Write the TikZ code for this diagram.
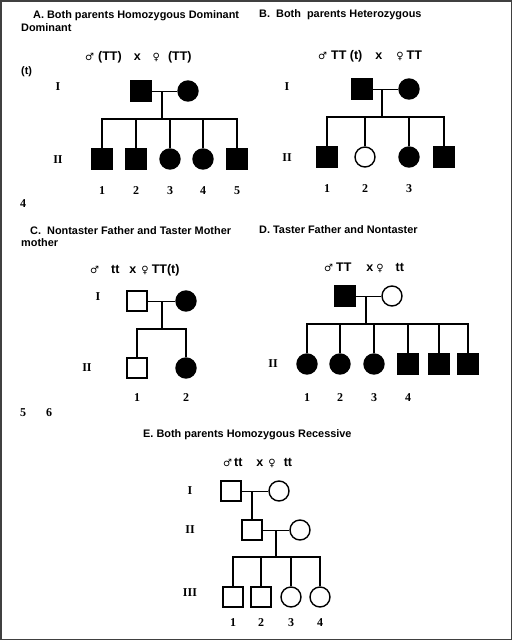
\documentclass[tikz,border=0pt]{standalone}
\usepackage{fontspec}
\setmainfont{Liberation Serif}
\setsansfont{Liberation Sans}
\newfontfamily\symfont{DejaVu Sans}
\newcommand{\msym}{{\symfont\mdseries\fontsize{10}{12}\selectfont ♂}}
\newcommand{\fsym}{{\symfont\mdseries\fontsize{10}{12}\selectfont ♀}}
\tikzset{
  male/.style={draw, rectangle, minimum size=20pt, inner sep=0pt, line width=1.4pt},
  female/.style={draw, circle, minimum size=20pt, inner sep=0pt, line width=1.4pt},
  taster/.style={fill=black},
  marline/.style={line width=0.8pt},
  descline/.style={line width=1.2pt},
  sibline/.style={line width=1.9pt},
  panel/.style={anchor=west, inner sep=0pt, font=\sffamily\bfseries\fontsize{10.9}{12}\selectfont},
  cross/.style={anchor=west, inner sep=0pt, font=\sffamily\bfseries\fontsize{12.5}{14}\selectfont},
  gen/.style={inner sep=0pt, font=\rmfamily\bfseries\fontsize{12}{13}\selectfont},
}
\begin{document}
\begin{tikzpicture}[x=1pt, y=-1pt]
    \useasboundingbox (0,0) rectangle (512,640);
    % Draw the frame
    \draw[line width=1.5pt, black!75] (0.75,0.75) rectangle (511.25,639.25);

    % A. both parents homozygous dominant
    \node[panel] (Atitle) at (33,16) {A. Both parents Homozygous Dominant};
    \node[panel] (Atitle2) at (21,28) {Dominant};
    \node[cross] (Across) at (85,57) {\msym\hspace{4pt}(TT)\hspace{12pt}x\hspace{12pt}\fsym\hspace{8pt}(TT)};
    \node[panel] (At) at (21,72) {(t)};
    \node[gen] (AI) at (58,87) {I};
    \node[gen] (AII) at (58,160) {II};
    \node[gen] (A4) at (23,204) {4};
    \node[male, taster] (Af) at (141,91) {};
    \node[female, taster] (Am) at (188,91) {};
    \coordinate (Ak) at (162,91);
    \coordinate (Aj) at (162,119);
    \draw[marline] (Af) -- (Am);
    \draw[descline] (Ak) -- (Aj);
    \foreach \x/\s/\n in {102/male/1, 136/male/2, 170/female/3, 203/female/4, 237/male/5} {
        \node[\s, taster] (Ac\n) at (\x,159) {};
        \node[gen] (An\n) at (\x,191) {\n};
        \draw[sibline] (Ac\n.north) |- (Aj);
    }

    % B. both parents heterozygous
    \node[panel] (Btitle) at (259,15) {B.~~Both~~parents Heterozygous};
    \node[cross] (Bcross) at (318,56) {\msym\hspace{4pt}TT (t)\hspace{13pt}x\hspace{14pt}\fsym\hspace{3pt}TT};
    \node[gen] (BI) at (287,87) {I};
    \node[gen] (BII) at (287,158) {II};
    \node[male, taster] (Bf) at (362,89) {};
    \node[female, taster] (Bm) at (409,89) {};
    \coordinate (Bk) at (382,89);
    \coordinate (Bj) at (382,117);
    \draw[marline] (Bf) -- (Bm);
    \draw[descline] (Bk) -- (Bj);
    \foreach \x/\s/\f/\n in {327/male/taster/1, 365/female/draw/2, 409/female/taster/3, 444/male/taster/4} {
        \node[\s, \f] (Bc\n) at (\x,157) {};
        \draw[sibline] (Bc\n.north) |- (Bj);
    }
    \foreach \x/\n in {327/1, 365/2, 409/3}
        \node[gen] (Bn\n) at (\x,189) {\n};

    % C. nontaster father and taster mother
    \node[panel] (Ctitle) at (30,231) {C.~~Nontaster Father and Taster Mother};
    \node[panel] (Ctitle2) at (21,243) {mother};
    \node[cross] (Ccross) at (90,270) {\msym\hspace{12pt}tt\hspace{10pt}x\hspace{5pt}\fsym\hspace{3pt}TT(t)};
    \node[gen] (CI) at (98,297) {I};
    \node[gen] (CII) at (87,368) {II};
    \node[gen] (C5) at (23,413) {5};
    \node[gen] (C6) at (49,413) {6};
    \node[male] (Cf) at (137,301) {};
    \node[female, taster] (Cm) at (186,301) {};
    \coordinate (Ck) at (162,301);
    \coordinate (Cj) at (162,329);
    \draw[marline] (Cf) -- (Cm);
    \draw[descline] (Ck) -- (Cj);
    \node[male] (Cc1) at (137,368) {};
    \node[female, taster] (Cc2) at (186,368) {};
    \draw[descline] (Cc1.north) |- (Cj);
    \draw[descline] (Cc2.north) |- (Cj);
    \node[gen] (Cn1) at (137,398) {1};
    \node[gen] (Cn2) at (186,398) {2};

    % D. taster father and nontaster mother
    \node[panel] (Dtitle) at (259,230) {D. Taster Father and Nontaster};
    \node[cross] (Dcross) at (324,268) {\msym\hspace{3pt}TT\hspace{15pt}x\hspace{3pt}\fsym\hspace{12pt}tt};
    \node[gen] (DII) at (273,364) {II};
    \node[male, taster] (Df) at (345,296) {};
    \node[female] (Dm) at (392,296) {};
    \coordinate (Dk) at (366,296);
    \coordinate (Dj) at (366,324);
    \draw[marline] (Df) -- (Dm);
    \draw[descline] (Dk) -- (Dj);
    \foreach \x/\s/\n in {307/female/1, 340/female/2, 374/female/3, 408/male/4, 439/male/5, 468/male/6} {
        \node[\s, taster] (Dc\n) at (\x,364) {};
        \draw[sibline] (Dc\n.north) |- (Dj);
    }
    \foreach \x/\n in {307/1, 340/2, 374/3, 408/4}
        \node[gen] (Dn\n) at (\x,398) {\n};

    % E. both parents homozygous recessive
    \node[panel] (Etitle) at (143,435) {E. Both parents Homozygous Recessive};
    \node[cross] (Ecross) at (223,463) {\msym\hspace{2pt}tt\hspace{14pt}x\hspace{5pt}\fsym\hspace{8pt}tt};
    \node[gen] (EI) at (190,491) {I};
    \node[gen] (EII) at (190,530) {II};
    \node[gen] (EIII) at (190,593) {III};
    \node[male] (Ef) at (231,491) {};
    \node[female] (Em) at (279,491) {};
    \coordinate (Ek) at (252,491);
    \draw[marline] (Ef) -- (Em);
    \node[male] (Es) at (252,530) {};
    \node[female] (Ew) at (300,530) {};
    \draw[descline] (Ek) -- (Es);
    \coordinate (Ek2) at (276,530);
    \coordinate (Ej) at (276,557);
    \draw[marline] (Es) -- (Ew);
    \draw[descline] (Ek2) -- (Ej);
    \foreach \x/\s/\n in {233/male/1, 261/male/2, 291/female/3, 320/female/4} {
        \node[\s] (Ec\n) at (\x,597) {};
        \node[gen] (En\n) at (\x,623) {\n};
        \draw[sibline] (Ec\n.north) |- (Ej);
    }
\end{tikzpicture}
\end{document}
